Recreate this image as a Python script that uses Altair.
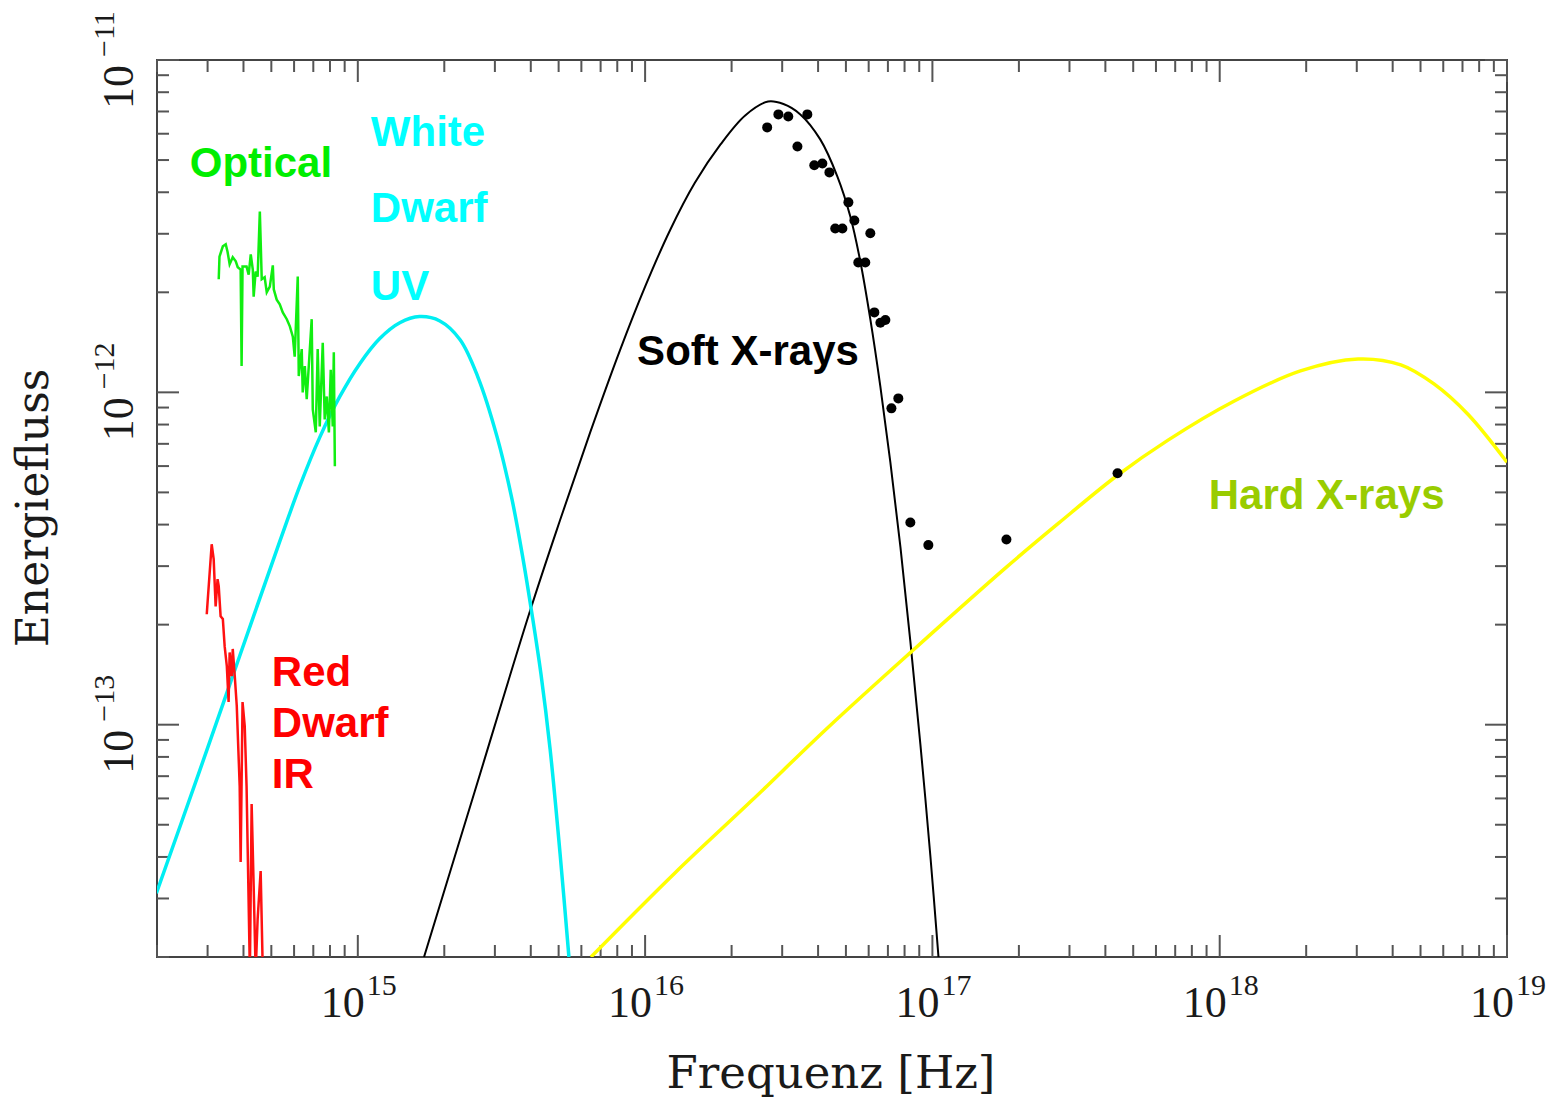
import altair as alt
import pandas as pd

W, H = 1350, 897

# ---- White dwarf (UV) model curve ----
wd_freq = [1.99e14, 2.82e14, 3.88e14, 5.35e14, 6.28e14, 7.37e14, 8.66e14, 1.016e15, 1.19e15, 1.40e15,
           1.64e15, 1.93e15, 2.27e15, 2.62e15, 3.05e15, 3.44e15, 3.76e15, 4.04e15, 4.34e15, 4.67e15,
           5.06e15, 5.43e15]
wd_flux = [3.11e-14, 7.30e-14, 1.61e-13, 3.56e-13, 5.22e-13, 7.32e-13, 9.72e-13, 1.22e-12, 1.45e-12,
           1.62e-12, 1.69e-12, 1.64e-12, 1.44e-12, 1.11e-12, 7.37e-13, 4.77e-13, 3.15e-13, 2.15e-13,
           1.42e-13, 8.44e-14, 4.08e-14, 2.0e-14]

# ---- Soft X-ray model curve ----
sx_freq = [1.70e15, 2.56e15, 3.97e15, 5.06e15, 6.43e15, 8.18e15, 1.00e16, 1.22e16, 1.49e16, 1.83e16,
           2.23e16, 2.68e16, 3.03e16, 3.47e16, 4.07e16, 4.67e16, 5.18e16, 5.61e16, 6.08e16, 6.59e16,
           7.14e16, 7.74e16, 8.38e16, 9.08e16, 9.84e16, 1.05e17]
sx_flux = [2.0e-14, 6.35e-14, 2.19e-13, 4.13e-13, 7.55e-13, 1.34e-12, 2.08e-12, 3.07e-12, 4.27e-12,
           5.57e-12, 6.81e-12, 7.50e-12, 7.37e-12, 6.86e-12, 5.77e-12, 4.46e-12, 3.38e-12, 2.48e-12,
           1.66e-12, 1.04e-12, 6.16e-13, 3.42e-13, 1.78e-13, 8.74e-14, 4.02e-14, 2.0e-14]

# ---- Hard X-ray model curve ----
hx_freq = [6.48e15, 1.27e16, 2.34e16, 4.34e16, 8.52e16, 1.81e17, 2.75e17, 4.41e17, 6.59e17, 1.12e18,
           1.91e18, 3.03e18, 4.27e18, 5.57e18, 7.31e18, 1.0e19]
hx_flux = [2.0e-14, 3.58e-14, 5.89e-14, 9.83e-14, 1.67e-13, 2.98e-13, 4.04e-13, 5.63e-13, 7.17e-13,
           9.40e-13, 1.16e-12, 1.26e-12, 1.21e-12, 1.06e-12, 8.59e-13, 6.16e-13]

# ---- Optical spectrum ----
opt_freq = [3.28e14, 3.30e14, 3.39e14, 3.47e14, 3.52e14, 3.58e14, 3.67e14, 3.76e14, 3.82e14, 3.91e14,
            3.94e14, 3.97e14, 4.10e14, 4.17e14, 4.24e14, 4.31e14, 4.34e14, 4.41e14, 4.48e14, 4.56e14,
            4.63e14, 4.74e14, 4.82e14, 4.94e14, 5.06e14, 5.10e14, 5.22e14, 5.35e14, 5.48e14, 5.66e14,
            5.80e14, 5.94e14, 6.03e14, 6.18e14, 6.23e14, 6.38e14, 6.43e14, 6.54e14, 6.64e14, 6.91e14,
            6.97e14, 7.14e14, 7.25e14, 7.37e14, 7.55e14, 7.67e14, 7.80e14, 7.93e14, 8.05e14, 8.18e14,
            8.25e14, 8.32e14]
opt_flux = [2.19e-12, 2.56e-12, 2.75e-12, 2.79e-12, 2.65e-12, 2.43e-12, 2.55e-12, 2.48e-12, 2.38e-12,
            2.34e-12, 1.20e-12, 2.39e-12, 2.39e-12, 2.26e-12, 2.60e-12, 2.34e-12, 1.94e-12, 2.31e-12,
            2.23e-12, 3.50e-12, 2.19e-12, 2.22e-12, 2.00e-12, 2.08e-12, 2.41e-12, 2.04e-12, 1.90e-12,
            1.84e-12, 1.74e-12, 1.66e-12, 1.58e-12, 1.47e-12, 1.28e-12, 2.23e-12, 1.12e-12, 1.35e-12,
            1.00e-12, 1.20e-12, 9.53e-13, 1.66e-12, 8.89e-13, 7.58e-13, 1.35e-12, 7.90e-13, 1.41e-12,
            8.29e-13, 9.72e-13, 7.58e-13, 1.17e-12, 7.90e-13, 1.32e-12, 5.99e-13]

# ---- Infrared spectrum (red dwarf) ----
ir_freq = [2.98e14, 3.00e14, 3.10e14, 3.15e14, 3.20e14, 3.25e14, 3.28e14, 3.33e14, 3.39e14, 3.44e14,
           3.50e14, 3.55e14, 3.58e14, 3.64e14, 3.67e14, 3.73e14, 3.79e14, 3.88e14, 3.91e14, 3.97e14,
           4.04e14, 4.10e14, 4.21e14, 4.27e14, 4.34e14, 4.41e14, 4.48e14, 4.59e14, 4.67e14]
ir_flux = [2.15e-13, 2.34e-13, 3.49e-13, 3.15e-13, 2.27e-13, 2.74e-13, 2.61e-13, 2.12e-13, 2.08e-13,
           1.72e-13, 1.50e-13, 1.17e-13, 1.65e-13, 1.40e-13, 1.69e-13, 1.40e-13, 1.14e-13, 6.53e-14,
           3.86e-14, 1.17e-13, 9.90e-14, 6.53e-14, 1.8e-14, 5.77e-14, 3.27e-14, 1.8e-14, 2.60e-14,
           3.63e-14, 1.8e-14]

# ---- Observed X-ray points ----
obs_freq = [2.66e16, 2.91e16, 3.15e16, 3.67e16, 3.39e16, 3.88e16, 4.14e16, 4.38e16, 5.10e16, 5.35e16,
            4.59e16, 4.86e16, 6.08e16, 5.52e16, 5.84e16, 6.28e16, 6.59e16, 6.86e16, 7.61e16, 7.20e16,
            8.38e16, 9.68e16, 1.81e17, 4.41e17]
obs_flux = [6.27e-12, 6.86e-12, 6.76e-12, 6.86e-12, 5.49e-12, 4.82e-12, 4.88e-12, 4.59e-12, 3.73e-12,
            3.29e-12, 3.11e-12, 3.11e-12, 3.01e-12, 2.46e-12, 2.46e-12, 1.74e-12, 1.62e-12, 1.65e-12,
            9.59e-13, 8.95e-13, 4.06e-13, 3.47e-13, 3.61e-13, 5.71e-13]

# ---- Annotations ----
label_text = ["Optical", "White", "Dwarf", "UV", "Soft X-rays", "Hard X-rays", "Red", "Dwarf", "IR"]
label_freq = [2.60e14, 1.11e15, 1.11e15, 1.11e15, 9.38e15, 9.16e17, 5.02e14, 5.02e14, 5.02e14]
label_flux = [4.46e-12, 5.53e-12, 3.25e-12, 1.90e-12, 1.21e-12, 4.45e-13, 1.31e-13, 9.17e-14, 6.44e-14]
label_color = ["#00ee00", "#00ffff", "#00ffff", "#00ffff", "#000000", "#99cc00", "#ff0000", "#ff0000", "#ff0000"]

# ---- Axis ticks and labels ----
x_major = [1e15, 1e16, 1e17, 1e18, 1e19]
x_major_exp = ["15", "16", "17", "18", "19"]
y_major = [1e-13, 1e-12, 1e-11]
y_major_exp = ["\u221213", "\u221212", "\u221211"]
minor_mult = [2, 3, 4, 5, 6, 7, 8, 9]
x_minor = [m * 10.0 ** e for e in range(14, 19) for m in minor_mult if 1.999e14 <= m * 10.0 ** e <= 1.0001e19]
y_minor = [m * 10.0 ** e for e in range(-14, -11) for m in minor_mult if 1.999e-14 <= m * 10.0 ** e <= 1.0001e-11]

xs = alt.Scale(type="log", domain=[2e14, 1e19], nice=False)
ys = alt.Scale(type="log", domain=[2e-14, 1e-11], nice=False)


def X(f):
    return alt.X(f"{f}:Q", scale=xs, axis=None)


def Y(f):
    return alt.Y(f"{f}:Q", scale=ys, axis=None)


def df(**cols):
    return pd.DataFrame(cols)


TICK = "#555555"
MAJ, MIN = 22, 12
layers = []

xmaj = alt.Chart(df(v=x_major))
xmin = alt.Chart(df(v=x_minor))
ymaj = alt.Chart(df(v=y_major))
ymin = alt.Chart(df(v=y_minor))
rule = dict(color=TICK, strokeWidth=2)

layers += [
    xmaj.mark_rule(**rule).encode(x=X("v"), y=alt.value(H), y2=alt.value(H - MAJ)),
    xmin.mark_rule(**rule).encode(x=X("v"), y=alt.value(H), y2=alt.value(H - MIN)),
    xmaj.mark_rule(**rule).encode(x=X("v"), y=alt.value(0), y2=alt.value(MAJ)),
    xmin.mark_rule(**rule).encode(x=X("v"), y=alt.value(0), y2=alt.value(MIN)),
    ymaj.mark_rule(**rule).encode(y=Y("v"), x=alt.value(0), x2=alt.value(MAJ)),
    ymin.mark_rule(**rule).encode(y=Y("v"), x=alt.value(0), x2=alt.value(MIN)),
    ymaj.mark_rule(**rule).encode(y=Y("v"), x=alt.value(W), x2=alt.value(W - MAJ)),
    ymin.mark_rule(**rule).encode(y=Y("v"), x=alt.value(W), x2=alt.value(W - MIN)),
]

smooth = "catmull-rom"
# curves
layers += [
    alt.Chart(df(f=sx_freq, s=sx_flux)).mark_line(color="#000000", strokeWidth=2, interpolate=smooth, clip=True)
    .encode(x=X("f"), y=Y("s")),
    alt.Chart(df(f=hx_freq, s=hx_flux)).mark_line(color="#ffff00", strokeWidth=3.5, interpolate=smooth, clip=True)
    .encode(x=X("f"), y=Y("s")),
    alt.Chart(df(f=wd_freq, s=wd_flux)).mark_line(color="#00eef2", strokeWidth=3.5, interpolate=smooth, clip=True)
    .encode(x=X("f"), y=Y("s")),
    alt.Chart(df(f=opt_freq, s=opt_flux)).mark_line(color="#11ee11", strokeWidth=2.5, clip=True)
    .encode(x=X("f"), y=Y("s")),
    alt.Chart(df(f=ir_freq, s=ir_flux)).mark_line(color="#ff1111", strokeWidth=2.5, clip=True)
    .encode(x=X("f"), y=Y("s")),
    alt.Chart(df(f=obs_freq, s=obs_flux)).mark_circle(color="#000000", size=100, opacity=1)
    .encode(x=X("f"), y=Y("s")),
]

# annotations
layers.append(
    alt.Chart(df(t=label_text, f=label_freq, s=label_flux, c=label_color))
    .mark_text(font="Liberation Sans", fontWeight="bold", fontSize=42, align="left", baseline="alphabetic")
    .encode(x=X("f"), y=Y("s"), text="t:N", color=alt.Color("c:N", scale=None))
)

AX = "#1a1a1a"
SERIF = "Liberation Serif"
# x tick labels
layers += [
    alt.Chart(df(v=x_major)).mark_text(text="10", font=SERIF, fontSize=44, align="right", baseline="alphabetic",
                                       dx=7, color=AX)
    .encode(x=X("v"), y=alt.value(H + 60)),
    alt.Chart(df(v=x_major, e=x_major_exp)).mark_text(font=SERIF, fontSize=30, align="left", baseline="alphabetic",
                                                      dx=9, color=AX)
    .encode(x=X("v"), y=alt.value(H + 38), text="e:N"),
]
# y tick labels (rotated)
layers += [
    alt.Chart(df(v=y_major)).mark_text(text="10", font=SERIF, fontSize=44, angle=270, align="right",
                                       baseline="alphabetic", dx=-5, color=AX)
    .encode(y=Y("v"), x=alt.value(-24)),
    alt.Chart(df(v=y_major, e=y_major_exp)).mark_text(font=SERIF, fontSize=30, angle=270, align="left",
                                                      baseline="alphabetic", dx=3, color=AX)
    .encode(y=Y("v"), x=alt.value(-43), text="e:N"),
]
# axis titles
layers += [
    alt.Chart(df(t=["Frequenz [Hz]"])).mark_text(font="DejaVu Serif", fontSize=45, align="center",
                                                 baseline="alphabetic", color=AX)
    .encode(text="t:N", x=alt.value(674), y=alt.value(H + 131)),
    alt.Chart(df(t=["Energiefluss"])).mark_text(font="DejaVu Serif", fontSize=44, angle=270, align="center",
                                                baseline="alphabetic", color=AX)
    .encode(text="t:N", x=alt.value(-109), y=alt.value(448)),
]

chart = (
    alt.layer(*layers)
    .properties(width=W, height=H, autosize=alt.AutoSizeParams(type="none"),
                padding={"left": 149, "top": 52, "right": 43, "bottom": 145})
    .configure_view(stroke="#444444", strokeWidth=2)
)

chart.save("out.html", embed_options={"renderer": "svg", "actions": False})
